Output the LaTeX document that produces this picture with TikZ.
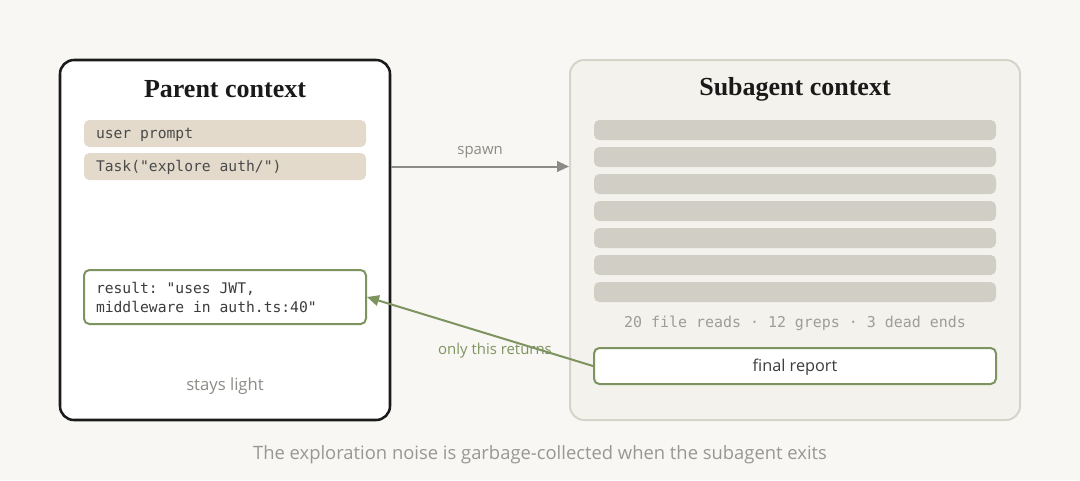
\documentclass[tikz,border=0pt]{standalone}
\usepackage{fontspec}
\setmainfont{Liberation Serif}
\setsansfont{Open Sans}
\setmonofont{DejaVu Sans Mono}
\usetikzlibrary{arrows.meta}
\definecolor{paper}{HTML}{F8F7F3}
\definecolor{ink}{HTML}{1A1A1A}
\definecolor{sand}{HTML}{E3DACB}
\definecolor{sage}{HTML}{7D9461}
\definecolor{subfill}{HTML}{F3F2EC}
\definecolor{subline}{HTML}{D5D3CA}
\definecolor{noise}{HTML}{D1CEC6}
\definecolor{muted}{HTML}{8C8C87}
\definecolor{codeink}{HTML}{4A4A4A}
\tikzset{
  ctx/.style={rounded corners=10.5pt, minimum width=247.5pt, minimum height=270pt, inner sep=0pt},
  ctxtitle/.style={font=\bfseries\fontsize{19.5}{23}\selectfont, text=ink},
  monotext/.style={align=flush left, execute at begin node={\spaceskip=0pt\xspaceskip=0pt}},
  msg/.style={monotext, fill=sand, rounded corners=4pt, minimum width=211.5pt, minimum height=20.25pt,
    text width=193.5pt, inner xsep=9pt, inner ysep=0pt, text height=0.875em, text depth=0.125em,
    font=\ttfamily\fontsize{11}{13}\selectfont, text=codeink},
  noisebar/.style={fill=noise, rounded corners=4pt, minimum width=301.5pt, minimum height=15pt, inner sep=0pt},
  kept/.style={draw=sage, line width=1.5pt, fill=white, rounded corners=4pt},
  note/.style={font=\sffamily\fontsize{12.5}{15}\selectfont, text=muted},
  arrowlabel/.style={font=\sffamily\fontsize{11.2}{13}\selectfont}
}
\begin{document}
\begin{tikzpicture}[x=0.75pt, y=-0.75pt]
\useasboundingbox[fill=paper] (0,0) rectangle (1080,480);

\node[ctx, draw=ink, line width=1.9pt, fill=white] (parent) at (225,240) {};
\node[ctx, draw=subline, line width=1.5pt, fill=subfill, minimum width=337.5pt] (sub) at (795,240) {};

\node[ctxtitle] (ptitle) at (225,89) {Parent context};
\node[ctxtitle] (stitle) at (795,89) {Subagent context};

\node[msg] (prompt) at (225,133.5) {user prompt};
\node[msg] (task) at (225,166.5) {Task("explore auth/")};
\node[kept, monotext, minimum width=211.5pt, minimum height=40.5pt, text width=193.5pt,
  inner xsep=9pt, font=\ttfamily\fontsize{11}{14.25}\selectfont, text=ink!85] (result) at (225,297)
  {result: "uses JWT,\\middleware in auth.ts:40"};
\node[note] (light) at (225,386) {stays light};

\foreach \i in {0,...,6}
  \node[noisebar] (bar\i) at (795,130+27*\i) {};
\node[font=\ttfamily\fontsize{11.2}{13}\selectfont, text=muted!85] (stats) at (795,323.5)
  {20 file reads · 12 greps · 3 dead ends};
\node[kept, minimum width=301.5pt, minimum height=27pt, text height=0.875em, text depth=0.125em,
  font=\sffamily\fontsize{12.2}{14}\selectfont, text=ink!85] (report) at (795,366) {final report};

\draw[muted, line width=1.5pt, -{Triangle[length=9pt, width=8pt]}]
  (task -| parent.east) -- node[arrowlabel, text=muted, above=2pt] {spawn} (task -| sub.west);
\draw[sage, line width=1.5pt, -{Triangle[length=9pt, width=8pt]}]
  (report.west) -- (result.east);
\node[arrowlabel, text=sage] (returns) at (495,350.5) {only this returns};

\node[font=\sffamily\fontsize{13.8}{16}\selectfont, text=muted!90] (caption) at (540,455)
  {The exploration noise is garbage-collected when the subagent exits};
\end{tikzpicture}
\end{document}
